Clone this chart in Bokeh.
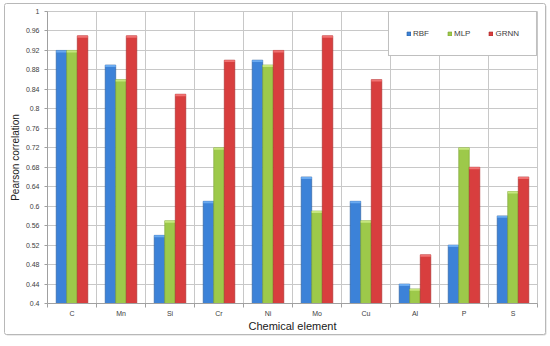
from urllib.parse import quote
from bokeh.plotting import figure
from bokeh.models import Range1d, FixedTicker, Legend, LegendItem, ColumnDataSource
from bokeh.embed import file_html
from bokeh.resources import INLINE

elements = ["C", "Mn", "Si", "Cr", "Ni", "Mo", "Cu", "Al", "P", "S"]
rbf = [0.92, 0.89, 0.54, 0.61, 0.90, 0.66, 0.61, 0.44, 0.52, 0.58]
mlp = [0.92, 0.86, 0.57, 0.72, 0.89, 0.59, 0.57, 0.43, 0.72, 0.63]
grnn = [0.95, 0.95, 0.83, 0.90, 0.92, 0.95, 0.86, 0.50, 0.68, 0.66]
y_ticks = [0.4, 0.44, 0.48, 0.52, 0.56, 0.6, 0.64, 0.68, 0.72, 0.76, 0.8, 0.84, 0.88, 0.92, 0.96, 1]
y_labels = ["0.4", "0.44", "0.48", "0.52", "0.56", "0.6", "0.64", "0.68", "0.72", "0.76", "0.8", "0.84", "0.88", "0.92", "0.96", "1"]

series = [("RBF", rbf, "#3C82D8", "#2A5E9E", "#6AAAF0"),
          ("MLP", mlp, "#9DC94A", "#78A030", "#C6E67E"),
          ("GRNN", grnn, "#D83E3E", "#A82828", "#F07272")]

n = len(elements)
centers = [i + 0.5 for i in range(n)]
bounds = list(range(n + 1))

p = figure(width=550, height=346, frame_width=490, frame_height=292,
           x_range=Range1d(0, n), y_range=Range1d(0.4, 1.0),
           output_backend="svg", toolbar_location=None,
           min_border_left=47, min_border_right=13, min_border_top=11, min_border_bottom=43)
p.background_fill_color = "white"
p.border_fill_color = "white"
p.border_fill_alpha = 0.0
p.outline_line_color = "#c8c8c8"

# outer chart border drawn as the figure element's background
border_svg = ("<svg xmlns='http://www.w3.org/2000/svg' width='550' height='346'>"
              "<rect x='5.5' y='4.5' width='541' height='331' rx='2' fill='#d8d8d8'/>"
              "<rect x='4.5' y='3.5' width='541' height='331' rx='2' fill='white' stroke='#b8b8b8'/>"
              "</svg>")
p.styles = {"background-image": 'url("data:image/svg+xml;utf8,' + quote(border_svg) + '")',
            "background-repeat": "no-repeat",
            "background-color": "white"}

bw = 0.215
cap = 0.004
items = []
for k, (name, vals, col, edge, light) in enumerate(series):
    off = (k - 1) * bw
    xs = [c + off for c in centers]
    src = ColumnDataSource(dict(x=xs, top=vals, capb=[v - cap for v in vals]))
    r = p.vbar(x="x", top="top", bottom=0.4, width=bw, source=src,
               fill_color=col, line_color=edge, line_width=0.6)
    p.vbar(x="x", top="top", bottom="capb", width=bw, source=src,
           fill_color=light, line_color=None)
    items.append(LegendItem(label=name, renderers=[r]))

# grid
p.xgrid.ticker = FixedTicker(ticks=bounds)
p.ygrid.ticker = FixedTicker(ticks=y_ticks)
p.xgrid.grid_line_color = "#c8c8c8"
p.ygrid.grid_line_color = "#c8c8c8"

# x axis
p.xaxis.ticker = FixedTicker(ticks=centers, minor_ticks=bounds)
p.xaxis.major_label_overrides = {c: e for c, e in zip(centers, elements)}
p.xaxis.major_tick_out = 0
p.xaxis.major_tick_in = 0
p.xaxis.minor_tick_out = 4
p.xaxis.minor_tick_in = 0
p.xaxis.minor_tick_line_color = "#a0a0a0"
p.xaxis.major_label_standoff = 2
p.xaxis.axis_label = "Chemical element"
p.xaxis.axis_label_standoff = 0

# y axis
p.yaxis.ticker = FixedTicker(ticks=y_ticks)
p.yaxis.major_label_overrides = {t: l for t, l in zip(y_ticks, y_labels)}
p.yaxis.major_tick_out = 3
p.yaxis.major_tick_in = 0
p.yaxis.minor_tick_line_color = None
p.yaxis.major_tick_line_color = "#a0a0a0"
p.yaxis.major_label_standoff = 5
p.yaxis.axis_label = "Pearson correlation"
p.yaxis.axis_label_standoff = 2

for ax in (p.xaxis, p.yaxis):
    ax.axis_line_color = "#a0a0a0"
    ax.major_label_text_font = "Liberation Sans"
    ax.major_label_text_font_size = "7px"
    ax.major_label_text_color = "#404040"
    ax.axis_label_text_font = "Liberation Sans"
    ax.axis_label_text_font_style = "normal"
    ax.axis_label_text_color = "#202020"
p.xaxis.axis_label_text_font_size = "11px"
p.yaxis.axis_label_text_font_size = "10px"

legend = Legend(items=items, orientation="horizontal", location="top_right",
                margin=0, padding=17, spacing=18, label_standoff=2,
                glyph_width=5, glyph_height=5, label_height=9, label_width=1,
                label_text_font="Liberation Sans", label_text_font_size="8px",
                label_text_color="#404040",
                border_line_color="#808080", background_fill_color="white",
                background_fill_alpha=1.0)
p.add_layout(legend)

open("out.html", "w").write(file_html(p, INLINE))
